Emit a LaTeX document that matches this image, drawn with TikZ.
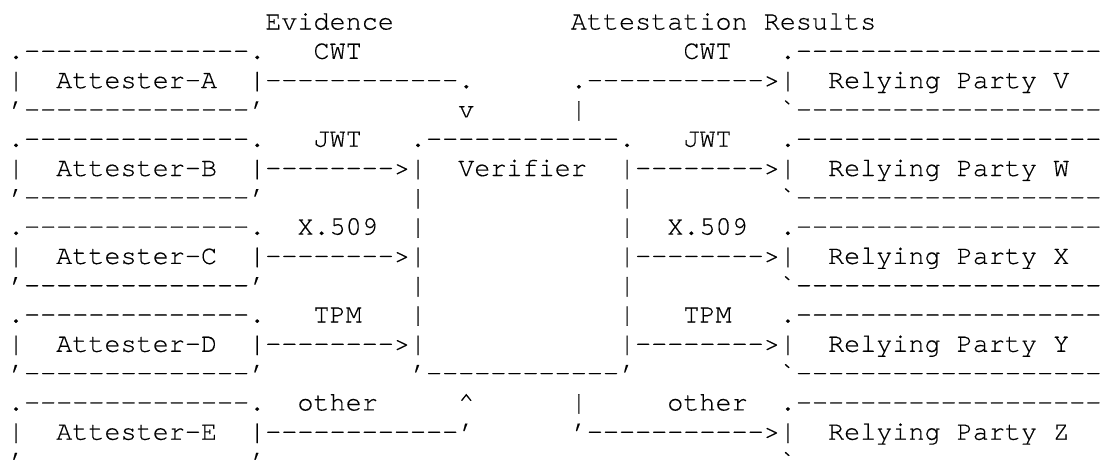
\documentclass[tikz,border=0pt]{standalone}
\usepackage{fontspec}
% monospaced face with no ligatures, so every glyph keeps its own column
\newfontfamily\asciifont{texgyrecursor-regular.otf}[Ligatures={NoCommon,NoRequired},FakeBold=0.35]
% character grid: one column = 16.08pt, one text row = 29.3pt
\newcommand\glyphrun[4]{\node[ascii] (#1) at ({8+#2*16.08},{29.5+(#3-1)*29.3}) {#4};}
\tikzset{
  ascii/.style={font=\asciifont\fontsize{26.8}{29.3}\selectfont,
    anchor=base west, inner sep=0pt, outer sep=0pt, text=black},
}
\begin{document}
\begin{tikzpicture}[x=1pt,y=-1pt]
\useasboundingbox (0,0) rectangle (1100,459);
\clip (0,0) rectangle (1100,459);
% headings
\glyphrun{evi}{16}{1}{Evidence}
\glyphrun{res}{35}{1}{Attestation Results}
% Attester-A / Relying Party V
\glyphrun{aTop}{0}{2}{.--------------.}
\glyphrun{cwtL}{19}{2}{CWT}
\glyphrun{cwtR}{42}{2}{CWT}
\glyphrun{vTop}{48}{2}{.-------------------.}
\glyphrun{attA}{0}{3}{|~~Attester-A~~|}
\glyphrun{eA}{16}{3}{------------.}
\glyphrun{rV}{35}{3}{.----------->}
\glyphrun{rpV}{48}{3}{|~~Relying Party V~~|}
\glyphrun{aBot}{0}{4}{’--------------’}
\glyphrun{dnA}{28}{4}{v}
\glyphrun{upV}{35}{4}{|}
\glyphrun{vBot}{48}{4}{`-------------------’}
% Attester-B / Verifier / Relying Party W
\glyphrun{bTop}{0}{5}{.--------------.}
\glyphrun{jwtL}{19}{5}{JWT}
\glyphrun{verTop}{25}{5}{.------------.}
\glyphrun{jwtR}{42}{5}{JWT}
\glyphrun{wTop}{48}{5}{.-------------------.}
\glyphrun{attB}{0}{6}{|~~Attester-B~~|}
\glyphrun{eB}{16}{6}{-------->}
\glyphrun{ver}{25}{6}{|~~Verifier~~|}
\glyphrun{rW}{39}{6}{-------->}
\glyphrun{rpW}{48}{6}{|~~Relying Party W~~|}
\glyphrun{bBot}{0}{7}{’--------------’}
\glyphrun{verLa}{25}{7}{|}
\glyphrun{verRa}{38}{7}{|}
\glyphrun{wBot}{48}{7}{`-------------------’}
% Attester-C / Relying Party X
\glyphrun{cTop}{0}{8}{.--------------.}
\glyphrun{xL}{18}{8}{X.509}
\glyphrun{verLb}{25}{8}{|}
\glyphrun{verRb}{38}{8}{|}
\glyphrun{xR}{41}{8}{X.509}
\glyphrun{xTop}{48}{8}{.-------------------.}
\glyphrun{attC}{0}{9}{|~~Attester-C~~|}
\glyphrun{eC}{16}{9}{-------->}
\glyphrun{verLc}{25}{9}{|}
\glyphrun{verRc}{38}{9}{|}
\glyphrun{rX}{39}{9}{-------->}
\glyphrun{rpX}{48}{9}{|~~Relying Party X~~|}
\glyphrun{cBot}{0}{10}{’--------------’}
\glyphrun{verLd}{25}{10}{|}
\glyphrun{verRd}{38}{10}{|}
\glyphrun{xBot}{48}{10}{`-------------------’}
% Attester-D / Relying Party Y
\glyphrun{dTop}{0}{11}{.--------------.}
\glyphrun{tpmL}{19}{11}{TPM}
\glyphrun{verLe}{25}{11}{|}
\glyphrun{verRe}{38}{11}{|}
\glyphrun{tpmR}{42}{11}{TPM}
\glyphrun{yTop}{48}{11}{.-------------------.}
\glyphrun{attD}{0}{12}{|~~Attester-D~~|}
\glyphrun{eD}{16}{12}{-------->}
\glyphrun{verLf}{25}{12}{|}
\glyphrun{verRf}{38}{12}{|}
\glyphrun{rY}{39}{12}{-------->}
\glyphrun{rpY}{48}{12}{|~~Relying Party Y~~|}
\glyphrun{dBot}{0}{13}{’--------------’}
\glyphrun{verBot}{25}{13}{’------------’}
\glyphrun{yBot}{48}{13}{`-------------------’}
% Attester-E / Relying Party Z
\glyphrun{eTop}{0}{14}{.--------------.}
\glyphrun{othL}{18}{14}{other}
\glyphrun{upE}{28}{14}{\textasciicircum}
\glyphrun{dnZ}{35}{14}{|}
\glyphrun{othR}{41}{14}{other}
\glyphrun{zTop}{48}{14}{.-------------------.}
\glyphrun{attE}{0}{15}{|~~Attester-E~~|}
\glyphrun{eE}{16}{15}{------------’}
\glyphrun{rZ}{35}{15}{’----------->}
\glyphrun{rpZ}{48}{15}{|~~Relying Party Z~~|}
\glyphrun{eBot}{0}{16}{’--------------’}
\glyphrun{zBot}{48}{16}{`-------------------’}
\end{tikzpicture}
\end{document}
